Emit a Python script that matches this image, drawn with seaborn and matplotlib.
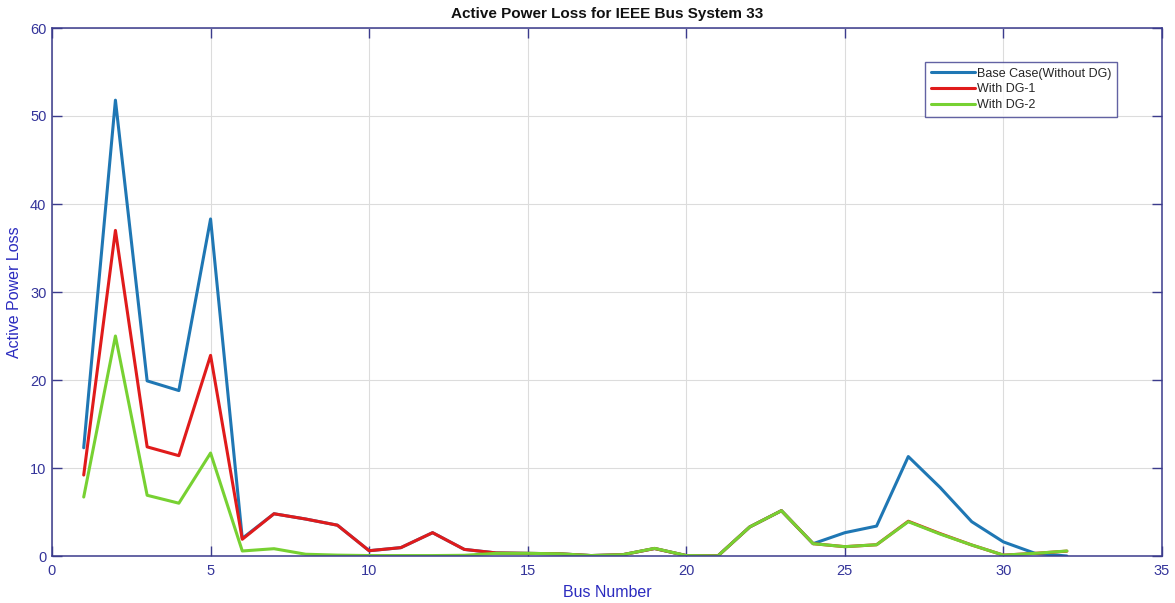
import numpy as np
import pandas as pd
import matplotlib
matplotlib.use("Agg")
import matplotlib.pyplot as plt
import seaborn as sns

bus = list(range(1, 33))
base_case = [12.3, 51.8, 19.9, 18.8, 38.3, 2.0, 4.8, 4.2, 3.5, 0.6, 0.95, 2.65, 0.75, 0.35, 0.3, 0.25,
             0.05, 0.15, 0.85, 0.05, 0.02, 3.3, 5.15, 1.4, 2.65, 3.4, 11.3, 7.8, 3.9, 1.6, 0.3, 0.0]
with_dg1 = [9.2, 37.0, 12.4, 11.4, 22.8, 1.9, 4.8, 4.2, 3.5, 0.6, 0.95, 2.65, 0.75, 0.35, 0.3, 0.25,
            0.05, 0.15, 0.85, 0.05, 0.02, 3.3, 5.15, 1.4, 1.06, 1.28, 3.95, 2.55, 1.25, 0.1, 0.3, 0.55]
with_dg2 = [6.7, 25.0, 6.9, 6.0, 11.7, 0.57, 0.83, 0.2, 0.1, 0.05, 0.05, 0.05, 0.08, 0.3, 0.3, 0.25,
            0.05, 0.15, 0.87, 0.05, 0.02, 3.3, 5.15, 1.4, 1.06, 1.28, 3.9, 2.5, 1.25, 0.1, 0.3, 0.57]
series_names = ["Base Case(Without DG)", "With DG-1", "With DG-2"]

df = pd.DataFrame({
    "Bus Number": bus * 3,
    "Active Power Loss": base_case + with_dg1 + with_dg2,
    "Case": [series_names[0]] * 32 + [series_names[1]] * 32 + [series_names[2]] * 32,
})

sns.set_theme(style="white")
plt.rcParams["font.family"] = ["Liberation Sans", "DejaVu Sans"]

axis_col = "#3b3b8c"
tick_label_col = "#34349a"
label_col = "#2b2bbf"
palette = {series_names[0]: "#1f77b4", series_names[1]: "#e01b1b", series_names[2]: "#77d132"}

fig = plt.figure(figsize=(11.75, 6.03), dpi=100)
ax = fig.add_axes([52 / 1175, 1 - 556 / 603, 1110 / 1175, 528 / 603])

sns.lineplot(data=df, x="Bus Number", y="Active Power Loss", hue="Case", hue_order=series_names,
             palette=palette, linewidth=2.2, ax=ax, legend=True)

ax.set_xlim(0, 35)
ax.set_ylim(0, 60)
ax.set_xticks(np.arange(0, 36, 5))
ax.set_yticks(np.arange(0, 61, 10))
ax.grid(True, color="#dcdcdc", linewidth=0.8)
ax.set_axisbelow(True)
for s in ax.spines.values():
    s.set_color(axis_col)
    s.set_linewidth(1.1)
ax.tick_params(direction="in", length=7, width=1.0, colors=axis_col, labelsize=10.5,
               labelcolor=tick_label_col, top=True, right=True, bottom=True, left=True)
ax.tick_params(axis="x", pad=6)
ax.tick_params(axis="y", pad=4)
ax.set_xlabel("Bus Number", color=label_col, fontsize=11.5, labelpad=5)
ax.set_ylabel("Active Power Loss", color=label_col, fontsize=11.5, labelpad=6)
ax.set_title("Active Power Loss for IEEE Bus System 33", fontsize=11, fontweight="bold",
             color="#111111", pad=7)

leg = ax.legend(loc="upper right", bbox_to_anchor=(0.9595, 0.9356), fontsize=9, frameon=True,
                fancybox=False, borderpad=0.45, labelspacing=0.3, handlelength=3.5, handletextpad=0.2,
                borderaxespad=0)
leg.get_frame().set_edgecolor(axis_col)
leg.get_frame().set_linewidth(1.0)
for line in leg.get_lines():
    line.set_linewidth(2.2)

fig.savefig("out.png", dpi=100)
